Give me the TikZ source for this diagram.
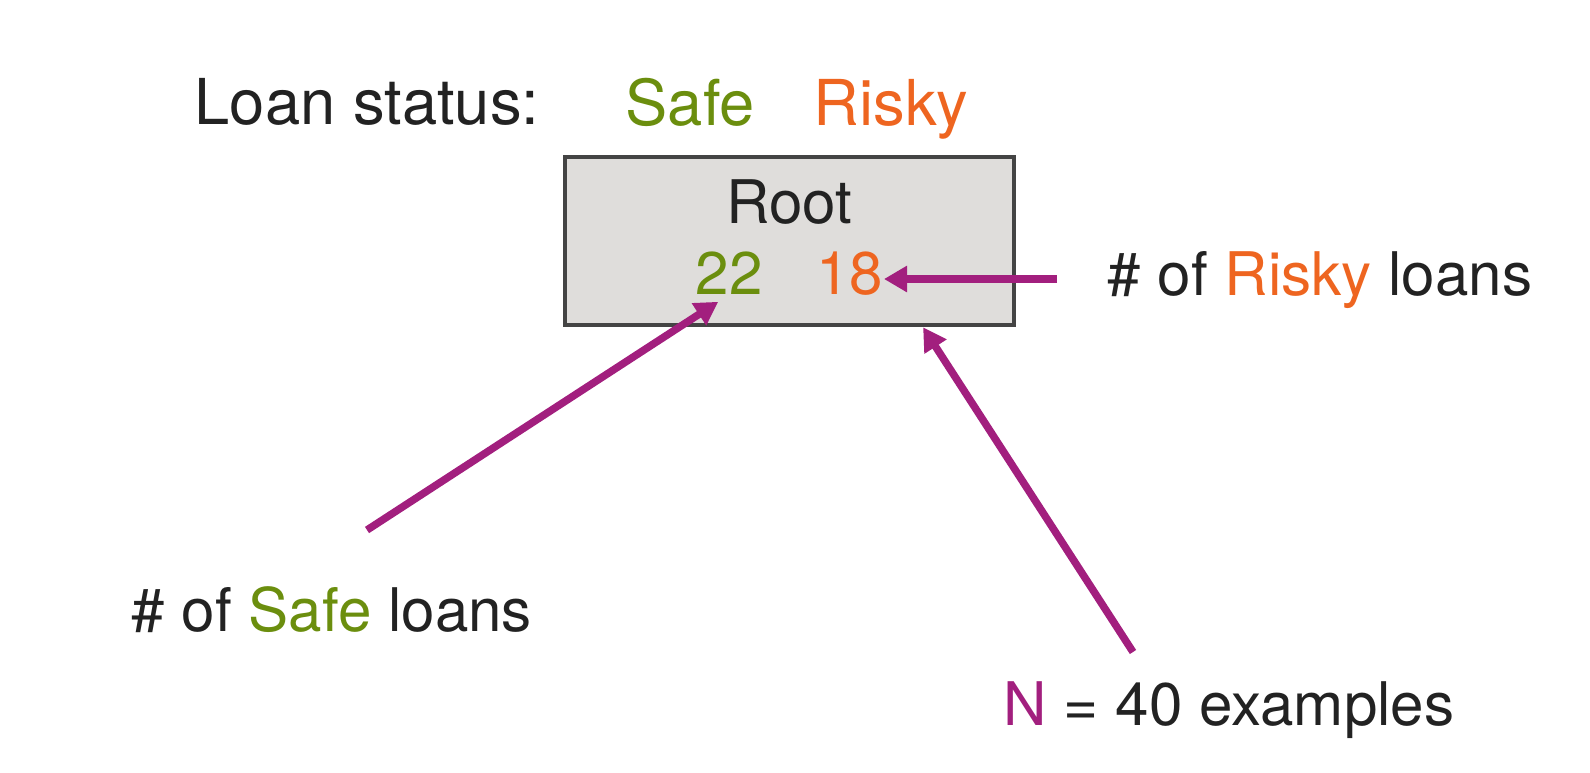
\documentclass[tikz,border=0pt]{standalone}
\usepackage{fontspec}
\setmainfont{TeX Gyre Heros}
\usetikzlibrary{arrows.meta}
\definecolor{safegreen}{HTML}{6B8E0E}
\definecolor{riskyorange}{HTML}{EE6520}
\definecolor{pointercol}{HTML}{A21F7E}
\definecolor{inkgray}{HTML}{222222}
\definecolor{boxgray}{HTML}{DFDDDB}
\definecolor{edgegray}{HTML}{444444}
\tikzset{
  txt/.style={inner sep=0, text=inkgray, font=\fontsize{17.1pt}{20pt}\selectfont},
  head/.style={txt, font=\fontsize{18pt}{21pt}\selectfont},
  pointer/.style={draw=pointercol, line width=0.075cm, -{Triangle[length=0.23cm,width=0.25cm]}},
}
\begin{document}
\begin{tikzpicture}[x=0.01cm,y=-0.01cm]
  \useasboundingbox (0,0) rectangle (1590,772);
  % legend line
  \node[head, anchor=base west] (status) at (194,124) {Loan status:};
  \node[head, anchor=base west, text=safegreen] (safe) at (625,125) {Safe};
  \node[head, anchor=base west, text=riskyorange] (risky) at (813,125) {Risky};
  % root box
  \node[draw=edgegray, fill=boxgray, line width=0.045cm, minimum width=4.49cm, minimum height=1.68cm, inner sep=0] (root) at (789.5,241) {};
  \node[txt, anchor=base] (rootname) at (789.5,223) {Root};
  \node[txt, anchor=base west, text=safegreen] (n22) at (695,294) {22};
  \node[txt, anchor=base east, text=riskyorange] (n18) at (884,294) {18};
  % labels
  \node[txt, anchor=base west] (riskylbl) at (1107,295) {\# of \textcolor{riskyorange}{Risky} loans};
  \node[txt, anchor=base west] (safelbl) at (131,631) {\# of \textcolor{safegreen}{Safe} loans};
  \node[txt, anchor=base west] (countlbl) at (1003,725) {\textcolor{pointercol}{N} = 40 examples};
  % pointers
  \coordinate (riskytail) at (1057,279);
  \coordinate (safetail) at (367,530);
  \coordinate (counttail) at (1133,652);
  \draw[pointer] (riskytail) -- (riskytail -| n18.east);
  \draw[pointer, shorten >=0.13cm] (safetail) -- (n22.south);
  \draw[pointer] (counttail) -- ([xshift=1.335cm]root.south);
\end{tikzpicture}
\end{document}
